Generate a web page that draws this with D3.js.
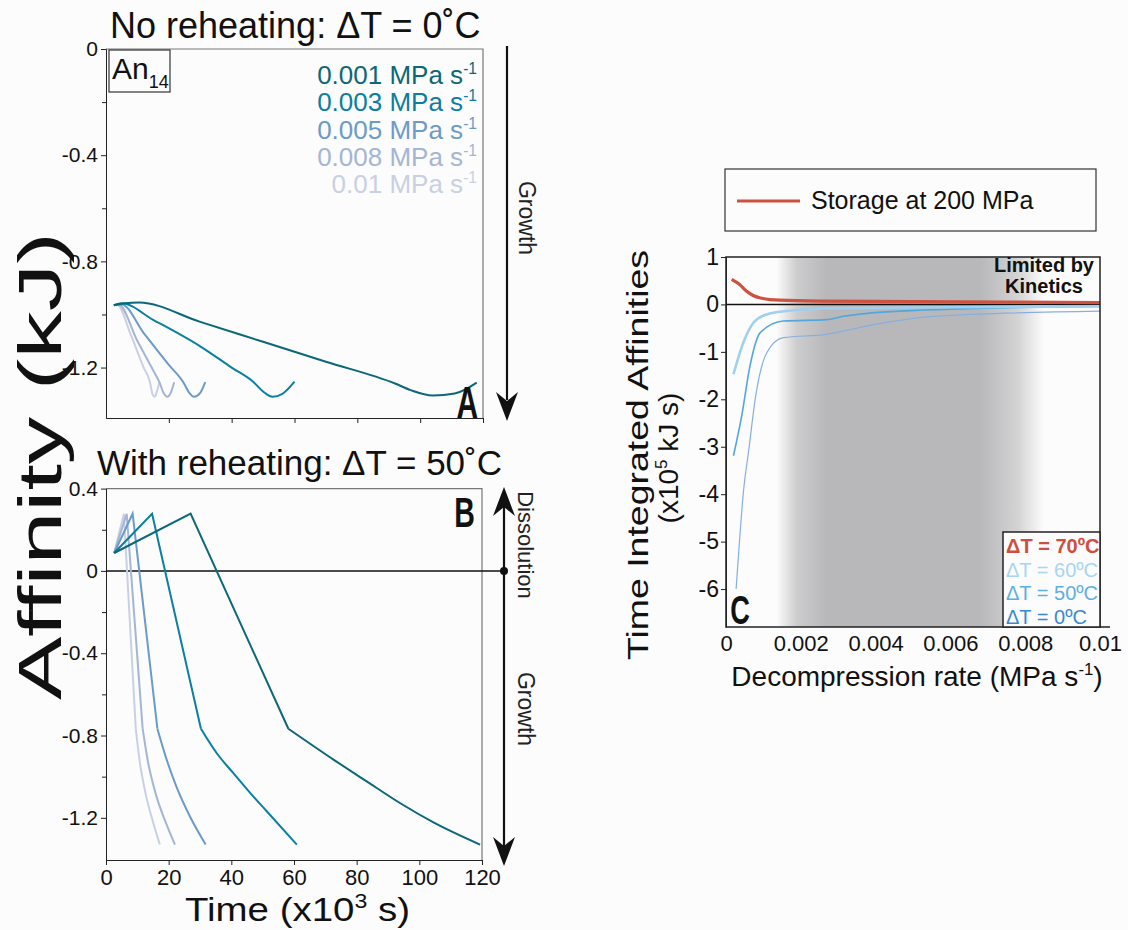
<!DOCTYPE html>
<html>
<head>
<meta charset="utf-8">
<script src="https://cdn.jsdelivr.net/npm/d3@7"></script>
<style>
  body { margin: 0; background: #fcfcfc; }
  text { font-family: "Liberation Sans", Arial, sans-serif; }
</style>
</head>
<body>
<div id="app"></div>
<script>
// decompression rates (MPa s-1) and their colours, panels A and B
const rates = ["0.001", "0.003", "0.005", "0.008", "0.01"];
const rateColors = ["#0b6779", "#0a7fa1", "#6b9bc9", "#a4b5d5", "#c8d0e3"];

// panel A, no reheating: [time (x10^3 s), affinity (kJ)]
const noReheat001 = [[2.5,-0.965],[6,-0.958],[10.5,-0.955],[30,-1.028],[50,-1.103],[70,-1.178],[92,-1.26],[97,-1.285],[104,-1.305],[111,-1.298],[118,-1.257]];
const noReheat003 = [[2.5,-0.965],[5,-0.958],[15,-1.02],[30,-1.12],[40,-1.2],[47,-1.255],[50,-1.29],[53,-1.31],[56,-1.30],[60,-1.253]];
const noReheat005 = [[2.5,-0.965],[5,-0.962],[12,-1.07],[20,-1.19],[24.6,-1.255],[26.5,-1.295],[28,-1.31],[30,-1.295],[31.6,-1.255]];
const noReheat008 = [[2.5,-0.965],[4,-0.962],[10,-1.1],[15,-1.21],[17,-1.255],[18.3,-1.295],[19.5,-1.31],[20.6,-1.295],[21.7,-1.255]];
const noReheat01  = [[2.5,-0.965],[3.5,-0.962],[8,-1.08],[12,-1.2],[14,-1.255],[14.8,-1.30],[15.5,-1.31],[16.2,-1.29],[17,-1.255]];
const noReheat = [noReheat001, noReheat003, noReheat005, noReheat008, noReheat01];

// panel B, reheating dT = 50 C: start -> peak -> kink (straight), then the decay curve
const reheatRise = [
  [[2.6,0.087],[27,0.278],[58.2,-0.767]],
  [[2.6,0.087],[14.7,0.278],[30.3,-0.767]],
  [[2.6,0.087],[8.5,0.278],[16.4,-0.767]],
  [[2.6,0.087],[6.6,0.278],[11.7,-0.767]],
  [[2.6,0.087],[5.7,0.278],[9.5,-0.767]]
];
const reheatDecay = [
  [[58.2,-0.767],[72.6,-0.917],[83.2,-1.023],[93.8,-1.128],[104.5,-1.222],[119.4,-1.33]],
  [[30.3,-0.767],[35.3,-0.885],[40.6,-0.982],[46,-1.079],[51.3,-1.168],[60.9,-1.33]],
  [[16.4,-0.767],[19,-0.9],[22.5,-1.05],[27,-1.2],[31.8,-1.33]],
  [[11.7,-0.767],[13.3,-0.92],[15.8,-1.08],[19,-1.22],[22,-1.33]],
  [[9.5,-0.767],[10.7,-0.92],[12.6,-1.08],[15,-1.22],[17.2,-1.33]]
];

const timeTicks = [0, 20, 40, 60, 80, 100, 120];
const aTicksA = [0, -0.4, -0.8, -1.2];
const aMinorA = [-0.2, -0.6, -1.0];
const aTicksB = [0.4, 0, -0.4, -0.8, -1.2];
const aMinorB = [0.2, -0.2, -0.6, -1.0];

// panel C: [decompression rate (MPa s-1), time integrated affinity (x10^5 kJ s)]
const dT70 = [[0.00015,0.53],[0.00035,0.43],[0.00055,0.28],[0.0009,0.14],[0.00144,0.09],[0.0025,0.07],[0.005,0.06],[0.01,0.04]];
const dT60 = [[0.0002,-1.47],[0.00046,-0.81],[0.00073,-0.39],[0.00109,-0.21],[0.00162,-0.14],[0.0029,-0.08],[0.006,-0.06],[0.01,-0.04]];
const dT50 = [[0.0002,-3.19],[0.00042,-2.35],[0.00064,-1.3],[0.00091,-0.6],[0.00153,-0.35],[0.0027,-0.32],[0.00314,-0.25],[0.00465,-0.14],[0.01,-0.035]];
const dT0  = [[0.00027,-6.0],[0.00036,-5.0],[0.00046,-4.0],[0.00062,-3.0],[0.00078,-2.0],[0.00109,-1.02],[0.00153,-0.7],[0.0027,-0.63],[0.00314,-0.56],[0.0042,-0.39],[0.00555,-0.25],[0.01,-0.14]];
const dTLabels = ["\u0394T = 70\u00baC", "\u0394T = 60\u00baC", "\u0394T = 50\u00baC", "\u0394T = 0\u00baC"];
const dTColors = ["#cf4f3d", "#a8d5f1", "#5cafe3", "#3a89d1"];
const rateTicks = [0, 0.002, 0.004, 0.006, 0.008, 0.01];
const intTicks = [1, 0, -1, -2, -3, -4, -5, -6];
// grey band "limited by kinetics": [rate, opacity]
const kineticsShade = [[0.00135,0],[0.0019,0.7],[0.0027,1],[0.0068,1],[0.0078,0.6],[0.0085,0]];

const fmt = d => d === 0 ? "0" : String(d).replace("\u2212", "-");

const svg = d3.select("#app")
  .append("svg")
  .attr("width", 1128)
  .attr("height", 930);

function styleAxis(g, size) {
  g.selectAll("text").attr("font-size", size).attr("fill", "#111");
  g.selectAll("line").attr("stroke", "#222");
  g.select(".domain").attr("stroke", "#222");
}

// text with a superscript part, then an optional tail back on the baseline
function superText(sel, x, y, base, sup, tail, size, color, anchor) {
  const t = sel.append("text")
    .attr("x", x).attr("y", y)
    .attr("font-size", size)
    .attr("fill", color)
    .attr("text-anchor", anchor || "start");
  t.append("tspan").text(base);
  t.append("tspan").attr("font-size", size * 0.6).attr("dy", -size * 0.38).text(sup);
  if (tail) t.append("tspan").attr("dy", size * 0.38).text(tail);
  return t;
}

function downArrow(x, tip) {
  return `M${x},${tip} L${x - 11},${tip - 29} L${x},${tip - 20} L${x + 11},${tip - 29} Z`;
}
function upArrow(x, tip) {
  return `M${x},${tip} L${x - 11},${tip + 29} L${x},${tip + 20} L${x + 11},${tip + 29} Z`;
}

// ---------- panel A ----------
const xA = d3.scaleLinear().domain([0, 120]).range([106, 483]);
const yA = d3.scaleLinear().domain([-1.39, 0]).range([418, 49]);

const gA = svg.append("g");
gA.append("path")
  .attr("d", `M${xA(0)},${yA(0)} H${xA(120)} V${yA(-1.39)}`)
  .attr("fill", "none").attr("stroke", "#777").attr("stroke-width", 1.2);

gA.append("g")
  .attr("transform", `translate(${xA(0)},0)`)
  .call(d3.axisLeft(yA).tickValues(aTicksA).tickFormat(fmt).tickSize(5).tickSizeOuter(0))
  .call(g => styleAxis(g, 21));
gA.append("g")
  .attr("transform", `translate(${xA(0)},0)`)
  .call(d3.axisLeft(yA).tickValues(aMinorA).tickFormat("").tickSize(4).tickSizeOuter(0))
  .call(g => styleAxis(g, 21));
gA.append("g")
  .attr("transform", `translate(0,${yA(-1.39)})`)
  .call(d3.axisBottom(xA).tickValues(timeTicks.slice(1)).tickFormat("").tickSize(5).tickSizeOuter(0))
  .call(g => styleAxis(g, 21));

const lineA = d3.line().x(d => xA(d[0])).y(d => yA(d[1])).curve(d3.curveMonotoneX);
gA.selectAll("path.curve")
  .data(noReheat.map((d, i) => ({ pts: d, i })).reverse())
  .enter()
  .append("path")
  .classed("curve", true)
  .attr("d", d => lineA(d.pts))
  .attr("fill", "none")
  .attr("stroke", d => rateColors[d.i])
  .attr("stroke-width", 2);

gA.append("text")
  .attr("x", 110).attr("y", 38)
  .attr("font-size", 36)
  .attr("fill", "#111")
  .text("No reheating: \u0394T = 0\u02daC");

gA.append("rect")
  .attr("x", 109).attr("y", 50).attr("width", 61).attr("height", 42)
  .attr("fill", "none").attr("stroke", "#333").attr("stroke-width", 1.2);
const an = gA.append("text").attr("x", 112).attr("y", 79).attr("font-size", 30).attr("fill", "#111");
an.append("tspan").text("An");
an.append("tspan").attr("font-size", 18).attr("dy", 9).text("14");

rates.forEach((r, i) => {
  superText(gA, 477, 84 + i * 27.3, r + " MPa s", "-1", null, 26, rateColors[i], "end");
});

gA.append("text")
  .attr("transform", "translate(478,418) scale(0.68,1)")
  .attr("text-anchor", "end")
  .attr("font-size", 44).attr("font-weight", "bold").attr("fill", "#111")
  .text("A");

gA.append("line").attr("x1", 507).attr("x2", 507).attr("y1", 46).attr("y2", 400)
  .attr("stroke", "#111").attr("stroke-width", 2.2);
gA.append("path").attr("d", downArrow(507, 421)).attr("fill", "#111");
gA.append("text")
  .attr("transform", "translate(519,218) rotate(90)")
  .attr("text-anchor", "middle").attr("font-size", 23).attr("fill", "#222")
  .text("Growth");

// ---------- panel B ----------
const xB = d3.scaleLinear().domain([0, 120]).range([106, 482]);
const yB = d3.scaleLinear().domain([-1.405, 0.4]).range([860, 488.6]);

const gB = svg.append("g");
gB.append("path")
  .attr("d", `M${xB(0)},${yB(0.4)} H${xB(120)} V${yB(-1.405)}`)
  .attr("fill", "none").attr("stroke", "#777").attr("stroke-width", 1.2);

gB.append("g")
  .attr("transform", `translate(${xB(0)},0)`)
  .call(d3.axisLeft(yB).tickValues(aTicksB).tickFormat(fmt).tickSize(5).tickSizeOuter(0))
  .call(g => styleAxis(g, 21));
gB.append("g")
  .attr("transform", `translate(${xB(0)},0)`)
  .call(d3.axisLeft(yB).tickValues(aMinorB).tickFormat("").tickSize(4).tickSizeOuter(0))
  .call(g => styleAxis(g, 21));
gB.append("g")
  .attr("transform", `translate(0,${yB(-1.405)})`)
  .call(d3.axisBottom(xB).tickValues(timeTicks).tickFormat(d => d).tickSize(5).tickSizeOuter(0).tickPadding(4))
  .call(g => styleAxis(g, 22));

gB.append("line")
  .attr("x1", xB(0)).attr("x2", 504).attr("y1", yB(0)).attr("y2", yB(0))
  .attr("stroke", "#111").attr("stroke-width", 1.5);

const riseB = d3.line().x(d => xB(d[0])).y(d => yB(d[1]));
const decayB = d3.line().x(d => xB(d[0])).y(d => yB(d[1])).curve(d3.curveMonotoneX);
for (let i = rates.length - 1; i >= 0; i--) {
  gB.append("path").attr("d", riseB(reheatRise[i]))
    .attr("fill", "none").attr("stroke", rateColors[i]).attr("stroke-width", 2);
  gB.append("path").attr("d", decayB(reheatDecay[i]))
    .attr("fill", "none").attr("stroke", rateColors[i]).attr("stroke-width", 2);
}

gB.append("text")
  .attr("x", 97).attr("y", 475)
  .attr("font-size", 35).attr("fill", "#111")
  .text("With reheating: \u0394T = 50\u02daC");

gB.append("text")
  .attr("transform", "translate(475,527) scale(0.68,1)")
  .attr("text-anchor", "end")
  .attr("font-size", 42).attr("font-weight", "bold").attr("fill", "#111")
  .text("B");

gB.append("line").attr("x1", 504).attr("x2", 504).attr("y1", 505).attr("y2", 848)
  .attr("stroke", "#111").attr("stroke-width", 2.2);
gB.append("path").attr("d", upArrow(504, 487)).attr("fill", "#111");
gB.append("path").attr("d", downArrow(504, 866)).attr("fill", "#111");
gB.append("circle").attr("cx", 504).attr("cy", yB(0)).attr("r", 4).attr("fill", "#111");
gB.append("text")
  .attr("transform", "translate(518,545) rotate(90)")
  .attr("text-anchor", "middle").attr("font-size", 22).attr("fill", "#222")
  .text("Dissolution");
gB.append("text")
  .attr("transform", "translate(518,709) rotate(90)")
  .attr("text-anchor", "middle").attr("font-size", 23).attr("fill", "#222")
  .text("Growth");

// shared labels for A and B
svg.append("text")
  .attr("transform", "translate(61,466) rotate(-90)")
  .attr("text-anchor", "middle")
  .attr("font-size", 62).attr("fill", "#111")
  .attr("textLength", 468).attr("lengthAdjust", "spacingAndGlyphs")
  .text("Affinity (kJ)");
superText(svg, 185, 921, "Time (x10", "3", " s)", 34, "#111")
  .attr("textLength", 225).attr("lengthAdjust", "spacingAndGlyphs");

// ---------- panel C ----------
const xC = d3.scaleLinear().domain([0, 0.01]).range([726, 1100]);
const yC = d3.scaleLinear().domain([-6.8, 1]).range([627, 257]);
const gC = svg.append("g");

const grad = svg.append("defs").append("linearGradient")
  .attr("id", "kinetics")
  .attr("gradientUnits", "userSpaceOnUse")
  .attr("x1", xC(0)).attr("x2", xC(0.01)).attr("y1", 0).attr("y2", 0);
grad.selectAll("stop")
  .data(kineticsShade)
  .enter()
  .append("stop")
  .attr("offset", d => d[0] / 0.01)
  .attr("stop-color", "#b8b8ba")
  .attr("stop-opacity", d => d[1]);

gC.append("rect")
  .attr("x", xC(0)).attr("y", yC(1))
  .attr("width", xC(0.01) - xC(0)).attr("height", yC(-6.8) - yC(1))
  .attr("fill", "url(#kinetics)");

gC.append("line")
  .attr("x1", xC(0)).attr("x2", xC(0.01)).attr("y1", yC(0)).attr("y2", yC(0))
  .attr("stroke", "#111").attr("stroke-width", 1.5);

const lineC = d3.line().x(d => xC(d[0])).y(d => yC(d[1])).curve(d3.curveMonotoneX);
gC.append("path").attr("d", lineC(dT0)).attr("fill", "none")
  .attr("stroke", "#86afe0").attr("stroke-width", 1.2);
gC.append("path").attr("d", lineC(dT50)).attr("fill", "none")
  .attr("stroke", "#53a6de").attr("stroke-width", 1.6);
gC.append("path").attr("d", lineC(dT60)).attr("fill", "none")
  .attr("stroke", "#9fd0f0").attr("stroke-width", 2.6);
gC.append("path").attr("d", lineC(dT70)).attr("fill", "none")
  .attr("stroke", "#cf5140").attr("stroke-width", 3.2);

gC.append("rect")
  .attr("x", xC(0)).attr("y", yC(1))
  .attr("width", xC(0.01) - xC(0)).attr("height", yC(-6.8) - yC(1))
  .attr("fill", "none").attr("stroke", "#222").attr("stroke-width", 1.5);
gC.append("line")
  .attr("x1", xC(0.01)).attr("x2", xC(0.01) + 10).attr("y1", yC(-6.8)).attr("y2", yC(-6.8))
  .attr("stroke", "#222").attr("stroke-width", 1.5);

gC.append("g")
  .attr("transform", `translate(${xC(0)},0)`)
  .call(d3.axisLeft(yC).tickValues(intTicks).tickFormat(fmt).tickSize(5).tickSizeOuter(0).tickPadding(2))
  .call(g => styleAxis(g, 23));
gC.append("g")
  .attr("transform", `translate(0,${yC(-6.8)})`)
  .call(d3.axisBottom(xC).tickValues(rateTicks).tickFormat(fmt).tickSize(0).tickPadding(8))
  .call(g => styleAxis(g, 22))
  .call(g => g.select(".domain").remove());

gC.append("text")
  .attr("x", 1044).attr("y", 272)
  .attr("text-anchor", "middle").attr("font-size", 20).attr("font-weight", "bold").attr("fill", "#111")
  .text("Limited by");
gC.append("text")
  .attr("x", 1044).attr("y", 293)
  .attr("text-anchor", "middle").attr("font-size", 20).attr("font-weight", "bold").attr("fill", "#111")
  .text("Kinetics");

gC.append("text")
  .attr("transform", "translate(750,624) scale(0.68,1)")
  .attr("text-anchor", "end")
  .attr("font-size", 40).attr("font-weight", "bold").attr("fill", "#111")
  .text("C");

// bottom-right legend
gC.append("rect")
  .attr("x", 1003).attr("y", 532).attr("width", 97).attr("height", 95)
  .attr("fill", "#fcfcfc").attr("stroke", "#222").attr("stroke-width", 1.5);
gC.selectAll("text.dtlab")
  .data(dTLabels)
  .enter()
  .append("text")
  .classed("dtlab", true)
  .attr("x", 1006)
  .attr("y", (d, i) => 553 + i * 23.7)
  .attr("font-size", 20)
  .attr("font-weight", (d, i) => i === 0 ? "bold" : "normal")
  .attr("fill", (d, i) => dTColors[i])
  .text(d => d);

// top legend
svg.append("rect")
  .attr("x", 725).attr("y", 169).attr("width", 371).attr("height", 62)
  .attr("fill", "none").attr("stroke", "#333").attr("stroke-width", 1.2);
svg.append("line")
  .attr("x1", 737).attr("x2", 800).attr("y1", 201).attr("y2", 201)
  .attr("stroke", "#cf5140").attr("stroke-width", 3);
svg.append("text")
  .attr("x", 811).attr("y", 209)
  .attr("font-size", 25).attr("fill", "#111")
  .text("Storage at 200 MPa");

svg.append("text")
  .attr("transform", "translate(648,455) rotate(-90)")
  .attr("text-anchor", "middle").attr("font-size", 30).attr("fill", "#111")
  .attr("textLength", 410).attr("lengthAdjust", "spacingAndGlyphs")
  .text("Time Integrated Affinities");
const yl = svg.append("text")
  .attr("transform", "translate(678,458) rotate(-90)")
  .attr("text-anchor", "middle").attr("font-size", 28).attr("fill", "#111");
yl.append("tspan").text("(x10");
yl.append("tspan").attr("font-size", 17).attr("dy", -11).text("5");
yl.append("tspan").attr("dy", 11).text(" kJ s)");

superText(svg, 917, 686, "Decompression rate (MPa s", "-1", ")", 28, "#111", "middle");
</script>
</body>
</html>
